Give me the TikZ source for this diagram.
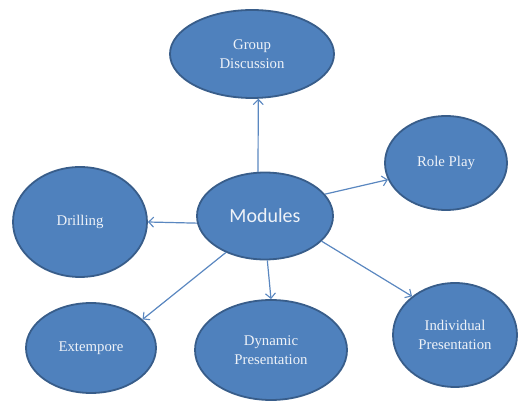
\documentclass[tikz,border=0pt]{standalone}
\usepackage{fontspec}
\setmainfont{Liberation Serif}
\newfontfamily\calib{Carlito}
\usetikzlibrary{shapes.geometric,arrows.meta}
\definecolor{bfill}{HTML}{4F81BD}
\definecolor{bdraw}{HTML}{385D8A}
\definecolor{btext}{HTML}{EEF2F8}
\definecolor{barrow}{HTML}{5A87C0}
\tikzset{
  bub/.style={ellipse, fill=bfill, draw=bdraw, line width=1.8pt, inner sep=0pt,
    text=btext, align=center, font=\fontsize{14.8pt}{19.5pt}\selectfont},
  arr/.style={draw=barrow, line width=1.2pt, -{Straight Barb[length=5pt,width=10pt,line width=1.1pt]}}
}
\begin{document}
\begin{tikzpicture}[x=1pt,y=-1pt]
\useasboundingbox (0,0) rectangle (520,403);
\node[bub, minimum width=164pt, minimum height=88pt] (GD) at (252,54) {Group\\Discussion};
\node[bub, minimum width=136pt, minimum height=87pt, font=\calib\fontsize{20pt}{22pt}\selectfont] (M) at (265,216) {Modules};
\node[bub, minimum width=134pt, minimum height=110pt] (DR) at (80,222) {Drilling};
\node[bub, minimum width=122pt, minimum height=94pt] (RP) at (446,163) {Role Play};
\node[bub, minimum width=130pt, minimum height=90pt] (EX) at (91,348) {Extempore};
\node[bub, minimum width=152pt, minimum height=100pt] (DY) at (271,350) {Dynamic\\Presentation};
\node[bub, minimum width=124pt, minimum height=104pt] (IN) at (455,335) {Individual\\Presentation};
\draw[arr] (M.99) -- (GD.-82);
\draw[arr] (M.186) -- (DR.east);
\draw[arr] (M.20) -- (RP.196);
\draw[arr] (M.223) -- (EX.29);
\draw[arr] (M.-87) -- (DY.north);
\draw[arr] (M.-24) -- (IN.138);
\end{tikzpicture}
\end{document}
